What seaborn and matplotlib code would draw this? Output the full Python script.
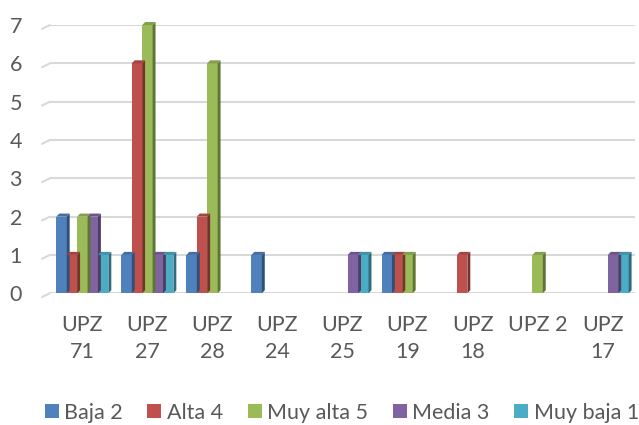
import matplotlib
matplotlib.use("Agg")
import matplotlib.pyplot as plt
from matplotlib.patches import Polygon
import matplotlib.colors as mcolors
import seaborn as sns
import pandas as pd

categories = ["UPZ 71", "UPZ 27", "UPZ 28", "UPZ 24", "UPZ 25", "UPZ 19", "UPZ 18", "UPZ 2", "UPZ 17"]
tick_labels = ["UPZ\n71", "UPZ\n27", "UPZ\n28", "UPZ\n24", "UPZ\n25", "UPZ\n19", "UPZ\n18", "UPZ 2", "UPZ\n17"]
series = ["Baja 2", "Alta 4", "Muy alta 5", "Media 3", "Muy baja 1"]
baja_2 = [2, 1, 1, 1, 0, 1, 0, 0, 0]
alta_4 = [1, 6, 2, 0, 0, 1, 1, 0, 0]
muy_alta_5 = [2, 7, 6, 0, 0, 1, 0, 1, 0]
media_3 = [2, 1, 0, 0, 1, 0, 0, 0, 1]
muy_baja_1 = [1, 1, 0, 0, 1, 0, 0, 0, 1]
colors = ["#4F81BD", "#C0504D", "#9BBB59", "#8064A2", "#4BACC6"]

values = [baja_2, alta_4, muy_alta_5, media_3, muy_baja_1]
rows = []
for name, vals in zip(series, values):
    for cat, v in zip(categories, vals):
        rows.append({"UPZ": cat, "Nivel": name, "Cantidad": v})
df = pd.DataFrame(rows)

sns.set_style("white")
plt.rcParams["font.family"] = ["Lato", "DejaVu Sans"]
text_color = "#595959"
fs = 15.5

fig = plt.figure(figsize=(6.39, 4.25), dpi=100)
ax = fig.add_axes([0.078, 0.31, 0.916, 0.631])

sns.barplot(data=df, x="UPZ", y="Cantidad", hue="Nivel", order=categories,
            hue_order=series, palette=colors, width=0.8, saturation=1,
            linewidth=0, ax=ax, legend=True)

# fake 3D side and top faces
dx, dy = 0.045, 0.08
for bar in list(ax.patches):
    h = bar.get_height()
    if not h or h <= 0:
        continue
    x0 = bar.get_x()
    x1 = x0 + bar.get_width()
    c = mcolors.to_rgb(bar.get_facecolor())
    dark = tuple(v * 0.62 for v in c)
    light = tuple(v * 0.85 for v in c)
    ax.add_patch(Polygon([(x1, 0), (x1 + dx, dy), (x1 + dx, h + dy), (x1, h)],
                         closed=True, facecolor=dark, edgecolor="none", clip_on=False, zorder=3))
    ax.add_patch(Polygon([(x0, h), (x0 + dx, h + dy), (x1 + dx, h + dy), (x1, h)],
                         closed=True, facecolor=light, edgecolor="none", clip_on=False, zorder=3))

ax.set_xlim(-0.5, len(categories) - 0.5)
ax.set_ylim(0, 7)
ax.set_yticks(range(0, 8))
ax.set_xticks(range(len(categories)))
ax.set_xticklabels(tick_labels, linespacing=1.4)
ax.yaxis.grid(True, color="#D9D9D9", linewidth=1.5)
ax.set_axisbelow(True)
# small slanted stubs at the left end of the gridlines (3D floor look)
for yv in range(0, 8):
    ax.plot([-0.62, -0.5], [yv - 0.1, yv], color="#D9D9D9", linewidth=1.5,
            clip_on=False, zorder=0)
for s in ax.spines.values():
    s.set_visible(False)
ax.tick_params(axis="y", length=0, pad=20, labelsize=fs, labelcolor=text_color)
ax.tick_params(axis="x", length=0, pad=16, labelsize=fs, labelcolor=text_color)
ax.set_xlabel("")
ax.set_ylabel("")

handles, labels = ax.get_legend_handles_labels()
ax.get_legend().remove()
fig.legend(handles, labels, loc="lower center", bbox_to_anchor=(0.535, -0.04), ncol=5,
           frameon=False, fontsize=fs, labelcolor=text_color, handlelength=0.65,
           handleheight=0.65, handletextpad=0.25, columnspacing=1.15)

fig.savefig("out.png", dpi=100)
